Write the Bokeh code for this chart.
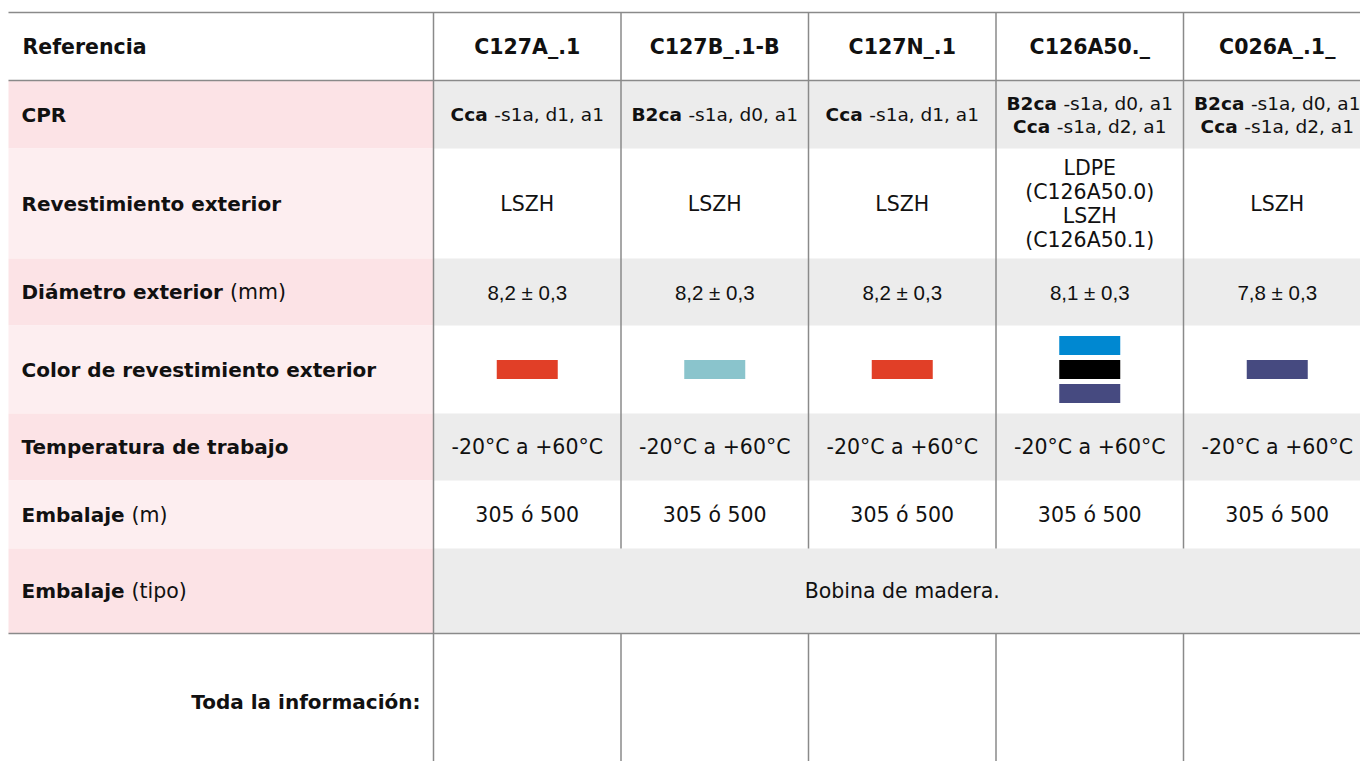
from bokeh.plotting import figure
from bokeh.models import Range1d
from bokeh.core.properties import value
from bokeh.embed import file_html
from bokeh.resources import INLINE

# ---------------- data ----------------
header_label = "Referencia"
references = ["C127A_.1", "C127B_.1-B", "C127N_.1", "C126A50._", "C026A_.1_"]
row_bold = ["CPR", "Revestimiento exterior", "Diámetro exterior",
            "Color de revestimiento exterior", "Temperatura de trabajo",
            "Embalaje", "Embalaje"]
row_unit = ["", "", "(mm)", "", "", "(m)", "(tipo)"]
cpr_class = [["Cca"], ["B2ca"], ["Cca"], ["B2ca", "Cca"], ["B2ca", "Cca"]]
cpr_rest = [["-s1a, d1, a1"], ["-s1a, d0, a1"], ["-s1a, d1, a1"],
            ["-s1a, d0, a1", "-s1a, d2, a1"], ["-s1a, d0, a1", "-s1a, d2, a1"]]
sheath = [["LSZH"], ["LSZH"], ["LSZH"],
          ["LDPE", "(C126A50.0)", "LSZH", "(C126A50.1)"], ["LSZH"]]
diameter = ["8,2 ± 0,3", "8,2 ± 0,3", "8,2 ± 0,3", "8,1 ± 0,3", "7,8 ± 0,3"]
sheath_colors = [["#e13f27"], ["#8ac4cc"], ["#e13f27"],
                 ["#0088d1", "#000000", "#464a80"], ["#464a80"]]
temperature = ["-20°C a +60°C", "-20°C a +60°C", "-20°C a +60°C",
               "-20°C a +60°C", "-20°C a +60°C"]
packaging_m = ["305 ó 500", "305 ó 500", "305 ó 500", "305 ó 500", "305 ó 500"]
packaging_type = "Bobina de madera."
footer_label = "Toda la información:"

# ---------------- layout ----------------
W, H = 1360, 761
X0 = 8
TOP = 12
LABEL_W = 425
COL_W = 187.5
HEADER_H = 68
ROW_H = [68, 110, 67, 88, 67, 68, 85]
PINK = ["#fce3e6", "#fdeef0"]
GREY = "#ececec"
LINE = "#8a8a8a"
INK = "#111111"
FONT = "DejaVu Sans"
BOLD_SIZE = 20
HEAD_SIZE = 20.5
REG_SIZE = 20.5
CPR_SIZE = 18.5

# DejaVu Sans advance widths (em)
REG_W = {' ': .318, '-': .361, 's': .521, '1': .636, 'a': .613, ',': .318, 'd': .635,
         '0': .636, '2': .636, '(': .390, ')': .390, 'm': .974, 't': .392, 'i': .278,
         'p': .635, 'o': .612}
BOLD_W = {'C': .748, 'c': .594, 'a': .675, 'B': .762, '2': .696, 'D': .830, 'i': .343,
          'á': .675, 'm': 1.042, 'e': .678, 't': .478, 'r': .493, 'o': .687, ' ': .348,
          'x': .650, 'E': .683, 'b': .716, 'l': .343, 'j': .343}


def tw_bold(s, size):
    return sum(BOLD_W.get(ch, .68) for ch in s) * size


def tw_reg(s, size):
    return sum(REG_W.get(ch, .62) for ch in s) * size


label_x = X0 + 13
data_x0 = X0 + LABEL_W
col_left = [data_x0 + i * COL_W for i in range(len(references))]
col_center = [c + COL_W / 2 for c in col_left]
row_top = [TOP + HEADER_H]
for h in ROW_H[:-1]:
    row_top.append(row_top[-1] + h)
row_bot = [t + h for t, h in zip(row_top, ROW_H)]
row_mid = [(t + b) / 2 for t, b in zip(row_top, row_bot)]
footer_top = row_bot[-1]

p = figure(width=W, height=H, output_backend="svg",
           toolbar_location=None, x_range=Range1d(0, W), y_range=Range1d(H, 0),
           min_border=0, outline_line_color=None, background_fill_color="white",
           border_fill_color="white")
p.axis.visible = False
p.grid.visible = False

# backgrounds
n = len(ROW_H)
p.quad(left=[X0] * n, right=[data_x0] * n, top=row_top, bottom=row_bot,
       fill_color=[PINK[i % 2] for i in range(n)], line_color=None)
grey_rows = [i for i in range(n) if i % 2 == 0]
p.quad(left=[data_x0] * len(grey_rows), right=[W + 20] * len(grey_rows),
       top=[row_top[i] for i in grey_rows], bottom=[row_bot[i] for i in grey_rows],
       fill_color=GREY, line_color=None)

# grid lines
hy = [TOP, TOP + HEADER_H, footer_top]
p.segment(x0=[X0] * 3, x1=[W] * 3, y0=hy, y1=hy, line_color=LINE, line_width=1.5)
p.segment(x0=[data_x0], x1=[data_x0], y0=[TOP], y1=[H], line_color=LINE, line_width=1.5)
inner = col_left[1:]
k = len(inner)
p.segment(x0=inner, x1=inner, y0=[TOP] * k, y1=[row_top[-1]] * k, line_color=LINE, line_width=1.5)
p.segment(x0=inner, x1=inner, y0=[footer_top] * k, y1=[H] * k, line_color=LINE, line_width=1.5)


def kw(size, bold, font=FONT):
    return dict(text_font=value(font), text_font_style="bold" if bold else "normal",
                text_font_size=f"{size}px", text_color=INK, text_baseline="middle")


# header
p.text(x=[X0 + 14], y=[TOP + HEADER_H / 2], text=[header_label], text_align="left",
       **kw(HEAD_SIZE, True))
p.text(x=col_center, y=[TOP + HEADER_H / 2] * len(references), text=references,
       text_align="center", **kw(HEAD_SIZE, True))

# row labels (bold + unit)
p.text(x=[label_x] * n, y=row_mid, text=row_bold, text_align="left", **kw(BOLD_SIZE, True))
ux, uy, ut = [], [], []
for i in range(n):
    if row_unit[i]:
        ux.append(label_x + tw_bold(row_bold[i] + " ", BOLD_SIZE))
        uy.append(row_mid[i])
        ut.append(row_unit[i])
p.text(x=ux, y=uy, text=ut, text_align="left", **kw(REG_SIZE, False))

# CPR mixed text
LINE_GAP_CPR = 23
bx, by, bt, rx, ry, rt = [], [], [], [], [], []
for c in range(len(references)):
    m = len(cpr_class[c])
    for j in range(m):
        yy = row_mid[0] + LINE_GAP_CPR * (j - (m - 1) / 2)
        wb = tw_bold(cpr_class[c][j] + " ", CPR_SIZE)
        wr = tw_reg(cpr_rest[c][j], CPR_SIZE)
        start = col_center[c] - (wb + wr) / 2
        bx.append(start); by.append(yy); bt.append(cpr_class[c][j])
        rx.append(start + wb); ry.append(yy); rt.append(cpr_rest[c][j])
p.text(x=bx, y=by, text=bt, text_align="left", **kw(CPR_SIZE, True))
p.text(x=rx, y=ry, text=rt, text_align="left", **kw(CPR_SIZE, False))

# sheath
LINE_GAP = 24
sx, sy, st = [], [], []
for c in range(len(references)):
    m = len(sheath[c])
    for j in range(m):
        sx.append(col_center[c])
        sy.append(row_mid[1] + LINE_GAP * (j - (m - 1) / 2))
        st.append(sheath[c][j])
p.text(x=sx, y=sy, text=st, text_align="center", **kw(REG_SIZE, False))

# diameter
p.text(x=col_center, y=[row_mid[2]] * len(references), text=diameter, text_align="center",
       **kw(20.5, False, "Liberation Sans"))

# colour swatches
SW_W, SW_H, SW_GAP = 61, 19, 24
qx, qy, qc = [], [], []
for c in range(len(references)):
    m = len(sheath_colors[c])
    for j in range(m):
        qx.append(col_center[c])
        qy.append(row_mid[3] + SW_GAP * (j - (m - 1) / 2))
        qc.append(sheath_colors[c][j])
p.rect(x=qx, y=qy, width=SW_W, height=SW_H, fill_color=qc, line_color=None)

# temperature, packaging
p.text(x=col_center, y=[row_mid[4]] * len(references), text=temperature, text_align="center",
       **kw(REG_SIZE, False))
p.text(x=col_center, y=[row_mid[5]] * len(references), text=packaging_m, text_align="center",
       **kw(REG_SIZE, False))
p.text(x=[(data_x0 + col_left[-1] + COL_W) / 2], y=[row_mid[6]], text=[packaging_type],
       text_align="center", **kw(REG_SIZE, False))

# footer
p.text(x=[data_x0 - 13], y=[(footer_top + H) / 2 + 4], text=[footer_label],
       text_align="right", **kw(BOLD_SIZE, True))

open("out.html", "w").write(file_html(p, INLINE))
